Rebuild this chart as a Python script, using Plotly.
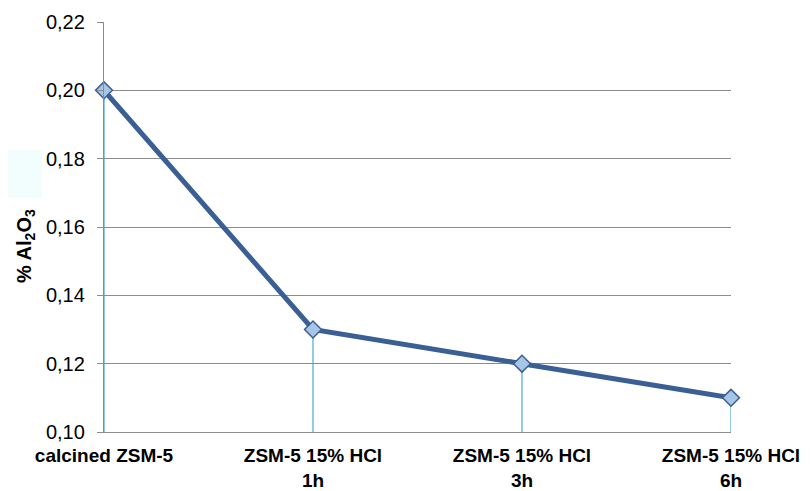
import plotly.graph_objects as go

categories = ["calcined ZSM-5", "ZSM-5 15% HCl<br>1h", "ZSM-5 15% HCl<br>3h", "ZSM-5 15% HCl<br>6h"]
al2o3 = [0.20, 0.13, 0.12, 0.11]
y_ticks = [0.10, 0.12, 0.14, 0.16, 0.18, 0.20, 0.22]
y_min, y_max = 0.10, 0.22

xs = list(range(len(categories)))

# drop lines from each point to the x axis
drop_x, drop_y = [], []
for x, v in zip(xs, al2o3):
    drop_x += [x, x, None]
    drop_y += [y_min, v, None]

fig = go.Figure()
fig.add_trace(go.Scatter(
    x=drop_x, y=drop_y, mode="lines",
    line=dict(color="#4BACC6", width=1.2),
    hoverinfo="skip", showlegend=False, cliponaxis=False,
))
fig.add_trace(go.Scatter(
    x=xs, y=al2o3, mode="lines+markers",
    line=dict(color="#3A5F94", width=5),
    marker=dict(symbol="diamond", size=13, color="#A7C5E6",
                line=dict(color="#3A5F94", width=1.5)),
    showlegend=False, cliponaxis=False,
))

# page has an 8px body margin; compensate so the plot lands where the reference has it
OFF = 8
W, H = 811, 491
L, T = 104 - OFF, 22 - OFF
R = W - (731 - OFF)
B = H - (432 - OFF)
pw, ph = W - L - R, H - T - B

def px_to_paper(xp, yp):
    return ((xp - OFF) - L) / pw, (H - B - (yp - OFF)) / ph

sx0, sy0 = px_to_paper(5, 198)
sx1, sy1 = px_to_paper(42, 150)
tx, ty = px_to_paper(25, 246)

fig.update_layout(
    width=W, height=H,
    margin=dict(l=L, r=R, t=T, b=B, autoexpand=False),
    paper_bgcolor="white", plot_bgcolor="white",
    separators=", ",
    font=dict(family="Liberation Sans, Arial, sans-serif", color="black"),
    xaxis=dict(
        range=[0, len(categories) - 1],
        tickvals=xs, ticktext=[f"<b>{c}</b>" for c in categories],
        tickfont=dict(size=19), showgrid=False, zeroline=False,
        showline=True, linecolor="#8C8C8C", linewidth=1.3,
        ticks="", ticklabelstandoff=6, automargin=False,
    ),
    yaxis=dict(
        range=[y_min, y_max], tickvals=y_ticks, tickformat=".2f",
        tickfont=dict(size=20), showgrid=True, gridcolor="#8C8C8C", gridwidth=1.3,
        zeroline=False, showline=True, linecolor="#8C8C8C", linewidth=1.3,
        ticks="outside", ticklen=6, tickcolor="#8C8C8C", tickwidth=1.3,
        ticklabelstandoff=8, automargin=False,
    ),
    shapes=[dict(
        type="rect", xref="paper", yref="paper",
        x0=sx0, x1=sx1, y0=sy0, y1=sy1,
        fillcolor="#F2FDFD", line=dict(width=0), layer="below",
    )],
    annotations=[dict(
        text="<b>% Al<sub>2</sub>O<sub>3</sub></b>",
        xref="paper", yref="paper",
        x=tx, y=ty,
        textangle=-90, showarrow=False, font=dict(size=20),
        xanchor="center", yanchor="middle",
    )],
)

fig.write_html("out.html")
